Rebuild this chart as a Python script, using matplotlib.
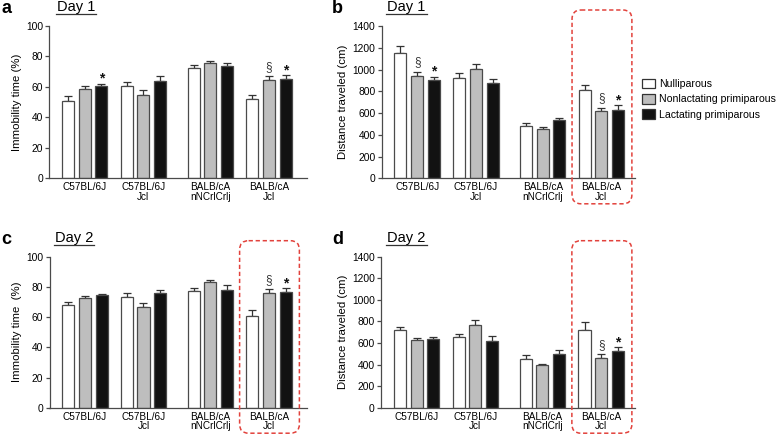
import numpy as np
import matplotlib
matplotlib.use('Agg')
import matplotlib.pyplot as plt
from matplotlib.patches import FancyBboxPatch

plt.rcParams['font.family'] = ['Liberation Sans', 'DejaVu Sans']

# strains (x groups) and parity groups (series)
strains = ['C57BL/6J', 'C57BL/6J\nJcl', 'BALB/cA\nnNCrlCrlj', 'BALB/cA\nJcl']
series = ['Nulliparous', 'Nonlactating primiparous', 'Lactating primiparous']

# a: immobility time day 1 (%)
imm1_null = [50.8, 60.7, 72.4, 52.2]
imm1_nonlact = [58.5, 55.0, 75.9, 64.3]
imm1_lact = [60.5, 64.0, 73.9, 64.9]
imm1_null_err = [3.3, 2.7, 1.7, 2.6]
imm1_nonlact_err = [2.2, 3.1, 1.3, 2.6]
imm1_lact_err = [1.5, 2.9, 1.5, 2.9]

# b: distance traveled day 1 (cm)
dist1_null = [1154, 919, 478, 812]
dist1_nonlact = [937, 1002, 456, 619]
dist1_lact = [903, 873, 533, 628]
dist1_null_err = [65, 46, 27, 46]
dist1_nonlact_err = [43, 48, 18, 30]
dist1_lact_err = [31, 43, 18, 43]

# c: immobility time day 2 (%)
imm2_null = [68.2, 73.4, 77.1, 60.6]
imm2_nonlact = [72.5, 66.4, 83.3, 76.1]
imm2_lact = [74.7, 75.8, 78.0, 76.5]
imm2_null_err = [1.5, 2.4, 2.5, 4.3]
imm2_nonlact_err = [1.3, 2.8, 1.5, 2.4]
imm2_lact_err = [0.9, 2.4, 3.3, 2.6]

# d: distance traveled day 2 (cm)
dist2_null = [719, 653, 456, 720]
dist2_nonlact = [629, 768, 394, 465]
dist2_lact = [635, 619, 499, 526]
dist2_null_err = [27, 34, 37, 78]
dist2_nonlact_err = [18, 49, 12, 31]
dist2_lact_err = [18, 44, 40, 37]

# significance marks: (strain index, series index, symbol)
marks_a = [(0, 2, '*'), (3, 1, '§'), (3, 2, '*')]
marks_b = [(0, 1, '§'), (0, 2, '*'), (3, 1, '§'), (3, 2, '*')]
marks_c = [(3, 1, '§'), (3, 2, '*')]
marks_d = [(3, 1, '§'), (3, 2, '*')]

fill_colors = ['white', '#bebebe', '#121212']
edge_col = '#4a4a4a'
red = '#e2423c'

pos = np.array([0, 1, 2.14, 3.14])
offs = [-0.285, 0, 0.285]
bw = 0.205

W, H = 778, 434
fig = plt.figure(figsize=(W / 100, H / 100), dpi=100)


def px_rect(left, top, right, bottom):
    return [left / W, 1 - bottom / H, (right - left) / W, (bottom - top) / H]


def draw_panel(rect, xr, vals, errs, ymax, ystep, ylabel, marks):
    ax = fig.add_axes(rect)
    for k in range(3):
        x = pos + offs[k]
        ax.bar(x, vals[k], bw, color=fill_colors[k], edgecolor=edge_col, lw=0.9, zorder=2)
        ax.errorbar(x, vals[k], yerr=[np.zeros(4), errs[k]], fmt='none', ecolor='#333333',
                    elinewidth=0.9, capsize=3.2, capthick=0.9, zorder=1)
    for i, k, s in marks:
        top = vals[k][i] + errs[k][i]
        if s == '*':
            ax.annotate(s, (pos[i] + offs[k], top), xytext=(0, -1.5), textcoords='offset points',
                        ha='center', va='bottom', fontsize=10, fontweight='bold', color='#111111')
        else:
            ax.annotate(s, (pos[i] + offs[k], top), xytext=(0, 2.5), textcoords='offset points',
                        ha='center', va='bottom', fontsize=8.5, color='#333333')
    ax.set_xlim(-0.604, xr)
    ax.set_ylim(0, ymax)
    ax.set_yticks(np.arange(0, ymax + 1, ystep))
    ax.set_xticks(pos)
    ax.set_xticklabels(strains, fontsize=7.2, linespacing=0.95)
    ax.tick_params(axis='x', length=0, pad=3)
    ax.tick_params(axis='y', length=3, width=0.9, color=edge_col, labelsize=7.4, pad=1.5)
    for sp in ['top', 'right']:
        ax.spines[sp].set_visible(False)
    for sp in ['left', 'bottom']:
        ax.spines[sp].set_color(edge_col)
        ax.spines[sp].set_linewidth(0.9)
    ax.set_ylabel(ylabel, fontsize=8.2, labelpad=3)
    return ax


ax_a = draw_panel(px_rect(49.3, 26, 307, 178.3), 3.79,
                  [imm1_null, imm1_nonlact, imm1_lact],
                  [imm1_null_err, imm1_nonlact_err, imm1_lact_err],
                  100, 20, 'Immobility time (%)', marks_a)
ax_b = draw_panel(px_rect(381.7, 26, 635, 178.3), 3.713,
                  [dist1_null, dist1_nonlact, dist1_lact],
                  [dist1_null_err, dist1_nonlact_err, dist1_lact_err],
                  1400, 200, 'Distance traveled (cm)', marks_b)
ax_c = draw_panel(px_rect(49.5, 256.7, 307, 407.7), 3.79,
                  [imm2_null, imm2_nonlact, imm2_lact],
                  [imm2_null_err, imm2_nonlact_err, imm2_lact_err],
                  100, 20, 'Immobility time  (%)', marks_c)
ax_d = draw_panel(px_rect(381, 256.7, 635, 407.7), 3.713,
                  [dist2_null, dist2_nonlact, dist2_lact],
                  [dist2_null_err, dist2_nonlact_err, dist2_lact_err],
                  1400, 200, 'Distance traveled (cm)', marks_d)

# overlay in pixel coordinates for labels, underlines and dashed boxes
ov = fig.add_axes([0, 0, 1, 1], zorder=10)
ov.set_xlim(0, W)
ov.set_ylim(H, 0)
ov.axis('off')
ov.patch.set_alpha(0)

renderer = fig.canvas.get_renderer()
panel_info = [(ax_a, 'a', 'Day 1', 1, 57), (ax_b, 'b', 'Day 1', 332, 387.5),
              (ax_c, 'c', 'Day 2', 1, 55), (ax_d, 'd', 'Day 2', 332, 387.5)]
for ax, lab, day, lx, dx in panel_info:
    top_px = H - ax.get_window_extent().y1
    ov.text(lx, top_px - 13, lab, fontsize=13, fontweight='bold', va='baseline', ha='left')
    t = ov.text(dx, top_px - 15, day, fontsize=10.5, va='baseline', ha='left')
    bb = t.get_window_extent(renderer)
    ov.plot([bb.x0 - 1, bb.x1 + 1], [top_px - 12, top_px - 12], color='#333333', lw=0.9)

for ax in [ax_b, ax_c, ax_d]:
    ext = ax.get_window_extent()
    x0 = ax.transData.transform((pos[3] - 0.5, 0))[0]
    x1 = ax.transData.transform((pos[3] + 0.52, 0))[0]
    y0 = H - ext.y1 - 16
    y1 = H - ext.y0 + 25.5
    box = FancyBboxPatch((x0, y0), x1 - x0, y1 - y0, boxstyle='round,pad=0,rounding_size=9',
                         fill=False, ec=red, lw=1.1, ls=(0, (2.8, 1.8)))
    ov.add_patch(box)

handles = [plt.Rectangle((0, 0), 1, 1, fc=c, ec='#333333', lw=0.9) for c in fill_colors]
fig.legend(handles, series, loc='upper left', bbox_to_anchor=(642 / W, 1 - 79 / H),
           frameon=False, fontsize=7.6, handlelength=1.2, handleheight=1.0,
           handletextpad=0.45, labelspacing=0.45, borderpad=0, borderaxespad=0)

fig.savefig('out.png', dpi=100)
